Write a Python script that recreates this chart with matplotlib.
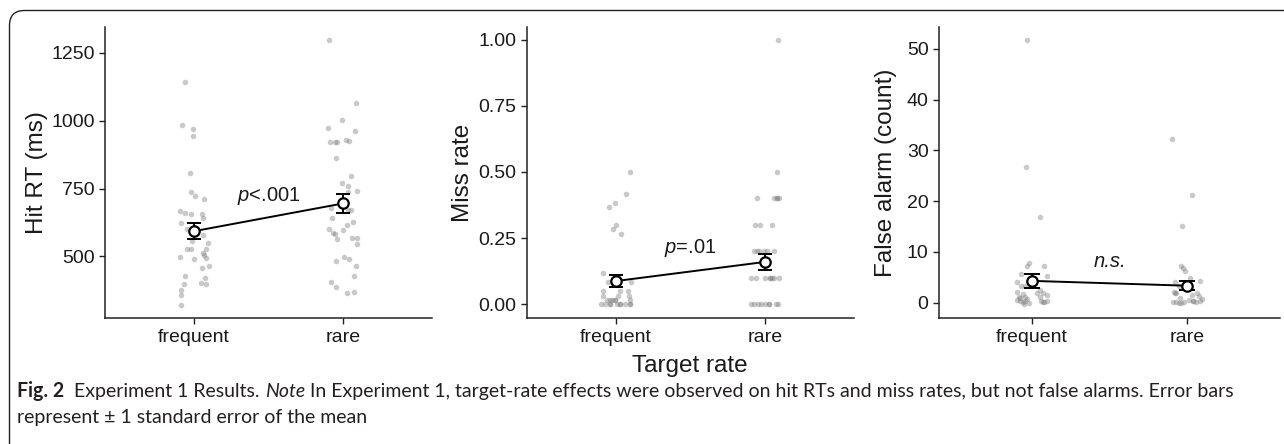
import matplotlib
matplotlib.use("Agg")
import matplotlib.pyplot as plt
from matplotlib.patches import FancyBboxPatch
import numpy as np

# ---------------- data ----------------
categories = ["frequent", "rare"]

# Panel 1: Hit RT (ms)
rt_freq = [1144, 986, 970, 944, 809, 738, 724, 712, 667, 659, 658, 658, 642, 624, 600,
           578, 550, 556, 529, 526, 529, 511, 505, 499, 495, 489, 464, 456, 427, 421,
           398, 403, 397, 376, 356, 321]
rt_freq_jit = [-0.063, -0.081, -0.007, -0.007, -0.029, -0.024, 0.003, 0.065, -0.096, -0.064,
               -0.024, 0.050, 0.060, -0.087, -0.051, 0.056, 0.094, -0.013, -0.047, -0.020,
               0.080, 0.056, 0.067, -0.096, 0.078, -0.002, 0.097, 0.052, -0.064, 0.070,
               -0.071, 0.043, 0.080, -0.091, -0.087, -0.087]
rt_rare = [1299, 1067, 1002, 975, 961, 923, 920, 920, 928, 926, 863, 797, 772, 761, 740,
           739, 679, 672, 670, 640, 627, 615, 602, 599, 587, 581, 564, 568, 568, 545,
           496, 490, 483, 464, 427, 407, 388, 364, 367]
rt_rare_jit = [-0.094, 0.091, -0.005, -0.097, 0.080, -0.085, -0.052, -0.040, 0.020, 0.040,
               -0.049, 0.058, -0.007, 0.038, 0.094, 0.034, -0.078, 0.054, 0.034, -0.074,
               0.067, 0.027, -0.094, 0.002, -0.063, -0.050, -0.040, 0.060, 0.096, 0.094,
               0.011, 0.044, -0.045, 0.091, 0.078, -0.081, -0.043, 0.027, 0.078]
rt_mean = [593, 695]
rt_se = [29.5, 35.5]

# Panel 2: Miss rate
miss_freq = [0.500, 0.417, 0.367, 0.383, 0.300, 0.283, 0.267, 0.117, 0.083, 0.083,
             0.050, 0.050, 0.050, 0.033, 0.033, 0.033, 0.017, 0.017, 0.017, 0.017,
             0.017, 0.017, 0.000, 0.000, 0.000, 0.000, 0.000, 0.000, 0.000, 0.000,
             0.000, 0.000]
miss_freq_jit = [0.091, 0.067, -0.047, -0.011, 0.002, -0.022, 0.031, -0.087, 0.098, -0.056,
                 -0.092, 0.024, 0.080, -0.087, 0.009, 0.085, -0.060, -0.043, -0.027, -0.005,
                 -0.005, 0.090, -0.103, -0.077, -0.043, -0.043, 0.007, 0.024, 0.024, 0.058,
                 0.091, 0.091]
miss_rare = [1.0, 0.5, 0.4, 0.4, 0.4, 0.4, 0.4, 0.3, 0.3, 0.3, 0.2, 0.2, 0.2, 0.2, 0.2, 0.2,
             0.1, 0.1, 0.1, 0.1, 0.1, 0.1, 0.1, 0.1, 0.0, 0.0, 0.0, 0.0, 0.0, 0.0, 0.0,
             0.0, 0.0]
miss_rare_jit = [0.092, 0.080, -0.054, 0.060, 0.079, 0.079, 0.097, -0.065, -0.031, 0.045,
                 -0.074, -0.054, -0.036, -0.007, 0.013, 0.065, -0.091, -0.056, 0.004, 0.034,
                 0.034, 0.050, 0.065, 0.094, -0.091, -0.070, -0.047, -0.029, 0.002, 0.025,
                 0.025, 0.074, 0.087]
miss_mean = [0.088, 0.160]
miss_se = [0.022, 0.030]

# Panel 3: False alarm (count)
fa_freq = [51.8, 26.8, 16.9, 7.75, 7.16, 7.2, 5.65, 5.26, 4.0, 3.3, 3.3, 2.5, 2.17, 1.7,
           1.85, 1.97, 1.5, 1.2, 1.0, 1.2, 1.2, 0.8, 0.53, 0.3, 0.2, 0.4, 0.4, 0.2, 0.4,
           0.0, -0.2, 0.1]
fa_freq_jit = [-0.030, -0.039, 0.054, -0.017, -0.032, 0.075, -0.069, 0.097, -0.097, -0.048,
               -0.071, 0.049, -0.097, -0.058, 0.032, 0.071, 0.097, -0.086, -0.080, -0.043,
               0.054, -0.030, -0.100, -0.076, -0.060, -0.045, 0.058, 0.071, 0.097, -0.020,
               -0.050, 0.080]
fa_rare = [32.3, 21.2, 15.2, 7.2, 6.9, 6.2, 4.8, 4.3, 4.0, 3.3, 2.2, 2.0, 1.85, 1.85, 1.4,
           1.5, 0.86, 0.67, 0.53, 0.4, 0.2, 0.1, 0.0, 0.0, 0.05, 0.3, 0.2, 0.4]
fa_rare_jit = [-0.097, 0.030, -0.034, -0.039, -0.028, -0.015, 0.017, 0.081, -0.075, -0.054,
               -0.086, -0.078, -0.069, 0.065, 0.075, 0.032, -0.048, 0.097, 0.010, 0.039,
               -0.090, -0.069, -0.054, -0.039, -0.021, 0.039, 0.060, 0.082]
fa_mean = [4.3, 3.35]
fa_se = [1.45, 0.90]

annotations = ["$\\mathit{p}$<.001", "$\\mathit{p}$=.01", "n.s."]
annot_italic = [False, False, True]
annot_y = [722, 0.214, 8.2]
ylabels = ["Hit RT (ms)", "Miss rate", "False alarm (count)"]
xlabel = "Target rate"

# ---------------- style ----------------
plt.rcParams["font.family"] = ["Liberation Sans", "DejaVu Sans"]
plt.rcParams["mathtext.fontset"] = "custom"
plt.rcParams["mathtext.it"] = "Liberation Sans:italic"
plt.rcParams["mathtext.rm"] = "Liberation Sans"

W, H = 1284, 444
fig = plt.figure(figsize=(W / 100, H / 100), dpi=100)
fig.patch.set_facecolor("white")

def px_axes(l, t, r, b):
    return fig.add_axes([l / W, 1 - b / H, (r - l) / W, (b - t) / H])

panels = [
    dict(box=(105, 27, 432, 318), ylim=(272.8, 1345.7), yticks=[500, 750, 1000, 1250],
         yfmt="{:.0f}", data=(rt_freq, rt_freq_jit, rt_rare, rt_rare_jit, rt_mean, rt_se),
         labx=48),
    dict(box=(527, 27, 854, 318), ylim=(-0.0517, 1.0475), yticks=[0, 0.25, 0.5, 0.75, 1.0],
         yfmt="{:.2f}", data=(miss_freq, miss_freq_jit, miss_rare, miss_rare_jit, miss_mean, miss_se),
         labx=474),
    dict(box=(939, 27, 1280, 318), ylim=(-3.01, 54.3), yticks=[0, 10, 20, 30, 40, 50],
         yfmt="{:.0f}", data=(fa_freq, fa_freq_jit, fa_rare, fa_rare_jit, fa_mean, fa_se),
         labx=897),
]

txtcol = "#1a1a1a"
for i, p in enumerate(panels):
    l, t, r, b = p["box"]
    ax = px_axes(l, t, r, b)
    fv, fj, rv, rj, mean, se = p["data"]
    xs_f = 1 + np.array(fj)
    xs_r = 2 + np.array(rj)
    ax.scatter(xs_f, fv, s=16, color="#7f7f7f", alpha=0.42, linewidths=0, zorder=2)
    ax.scatter(xs_r, rv, s=16, color="#7f7f7f", alpha=0.42, linewidths=0, zorder=2)
    unit_px = (r - l) / 2.2
    cap_pt = 0.1 * unit_px * 72 / 100
    ax.plot([1, 2], mean, color="black", lw=1.4, zorder=3)
    ax.errorbar([1, 2], mean, yerr=se, fmt="none", ecolor="black", elinewidth=1.4,
                capsize=cap_pt / 2, capthick=1.4, zorder=4)
    ax.plot([1, 2], mean, "o", mfc="white", mec="black", ms=7.5, mew=1.6, zorder=5)
    ax.text(1.5, annot_y[i], annotations[i], ha="center", va="center", fontsize=14.5,
            fontstyle="italic" if annot_italic[i] else "normal",
            color=txtcol, zorder=6)
    ax.set_xlim(0.4, 2.6)
    ax.set_ylim(*p["ylim"])
    ax.set_xticks([1, 2])
    ax.set_xticklabels(categories)
    ax.set_yticks(p["yticks"])
    ax.set_yticklabels([p["yfmt"].format(v) for v in p["yticks"]])
    for s in ["top", "right"]:
        ax.spines[s].set_visible(False)
    for s in ["left", "bottom"]:
        ax.spines[s].set_color("#222222")
        ax.spines[s].set_linewidth(1.1)
    ax.tick_params(axis="both", colors="#222222", labelcolor=txtcol, labelsize=14,
                   length=4, width=1.0)
    ax.tick_params(axis="x", pad=4)
    ax.tick_params(axis="y", pad=3.5)
    ax.set_ylabel(ylabels[i], fontsize=17.5, color=txtcol)
    ax.yaxis.set_label_coords((p["labx"] - l) / (r - l), 0.5)
    ax.set_facecolor("none")

fig.text(690 / W, 1 - 372 / H, xlabel, ha="center", va="baseline", fontsize=17.5, color=txtcol)

# ---------------- frame ----------------
frame = FancyBboxPatch((0.095, -0.6), 13.5, 4.335 + 0.6, boxstyle="round,pad=0,rounding_size=0.15",
                       transform=fig.dpi_scale_trans, fill=False, ec="#222222", lw=1.0,
                       clip_on=False)
fig.patches.append(frame)

# ---------------- caption ----------------
cap_font = "Lato"
line1 = [("Fig. 2", "bold", "normal"), ("  Experiment 1 Results. ", "normal", "normal"),
         ("Note", "normal", "italic"),
         (" In Experiment 1, target-rate effects were observed on hit RTs and miss rates, but not false alarms. Error bars",
          "normal", "normal")]
line2 = [("represent ± 1 standard error of the mean", "normal", "normal")]

renderer = fig.canvas.get_renderer()

def draw_line(pieces, x0, ybase, fs, measure=False):
    x = x0
    made = []
    for txt, wt, st in pieces:
        t = fig.text(x / W, 1 - ybase / H, txt, ha="left", va="baseline", fontsize=fs,
                     fontweight=wt, fontstyle=st, family=[cap_font, "DejaVu Sans"],
                     color="#231f20")
        bb = t.get_window_extent(renderer)
        x += bb.width
        made.append(t)
    if measure:
        for t in made:
            t.remove()
    return x - x0

trial = 12.0
wtot = draw_line(line1, 17, 397, trial, measure=True)
fs = trial * (1213 / wtot)
draw_line(line1, 17, 397, fs)
draw_line(line2, 17, 423, fs)

fig.savefig("out.png", dpi=100)
